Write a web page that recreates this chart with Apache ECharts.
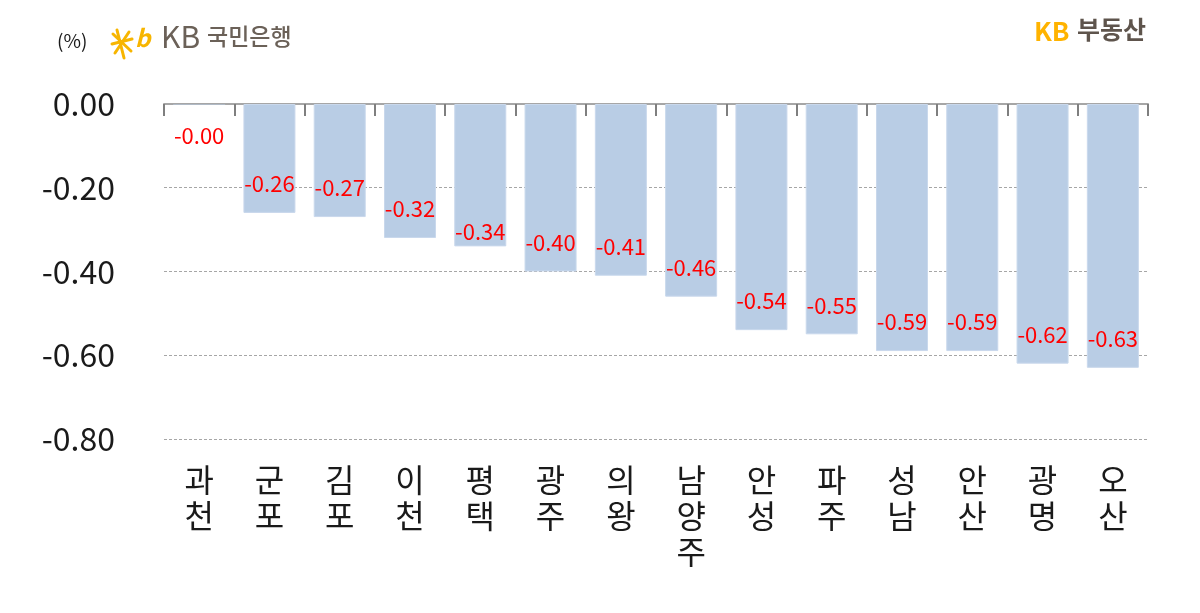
<!DOCTYPE html>
<html>
<head>
<meta charset="utf-8">
<script src="https://cdn.jsdelivr.net/npm/echarts@6/dist/echarts.min.js"></script>
<style>
html,body{margin:0;padding:0;background:#fff;}
#c{width:1200px;height:613px;}
</style>
</head>
<body>
<div id="c"></div>
<script>
const categories = ['과천','군포','김포','이천','평택','광주','의왕','남양주','안성','파주','성남','안산','광명','오산'];
const values = [-0.001,-0.26,-0.27,-0.32,-0.34,-0.40,-0.41,-0.46,-0.54,-0.55,-0.59,-0.59,-0.62,-0.63];
const yTicks = [-0.8,-0.6,-0.4,-0.2,0];

const FONT = '"Noto Sans CJK KR", "Noto Sans", sans-serif';
const chart = echarts.init(document.getElementById('c'));

const barData = values.map((v, i) => {
  if (i === 0) {
    return {value: v, itemStyle: {borderWidth: 0}, label: {position: 'bottom', distance: 20}};
  }
  if (i === 4) {
    return {value: v, label: {distance: 4}};
  }
  return v;
});

chart.setOption({
  animation: false,
  grid: {left: 164, right: 52, top: 104, bottom: 174},
  xAxis: [
    {
      type: 'category', data: categories, position: 'top',
      axisLine: {show: true, lineStyle: {color: '#A6A6A6', width: 2}},
      axisTick: {show: true, inside: true, length: 12, lineStyle: {color: '#7F7F7F', width: 2}},
      axisLabel: {show: false}
    },
    {
      type: 'category', data: categories, position: 'bottom',
      axisLine: {show: false}, axisTick: {show: false},
      axisLabel: {
        show: true, margin: 23, interval: 0,
        fontFamily: FONT, fontSize: 32, lineHeight: 36, color: '#1a1a1a',
        formatter: v => v.split('').join('\n')
      }
    }
  ],
  yAxis: {
    type: 'value', min: -0.8, max: 0, interval: 0.2,
    axisLine: {show: false}, axisTick: {show: false},
    splitLine: {show: true, lineStyle: {color: '#A6A6A6', type: [3, 2], width: 1}},
    axisLabel: {
      margin: 49, fontFamily: FONT, fontSize: 32, color: '#1a1a1a',
      formatter: v => v.toFixed(2)
    }
  },
  series: [{
    type: 'bar', xAxisIndex: 0, data: barData,
    barCategoryGap: '26%',
    itemStyle: {color: '#B9CDE5', borderColor: '#C9D8EC', borderWidth: 1},
    label: {
      show: true, position: 'insideBottom', distance: 18,
      fontFamily: FONT, fontSize: 22, color: '#FF0000',
      formatter: p => (p.value).toFixed(2)
    },
    z: 1
  }],
  graphic: [
    {type: 'text', left: 57, top: 31, style: {text: '(%)', font: '19px ' + FONT, fill: '#1a1a1a'}},
    {type: 'line', shape: {x1: 117, y1: 30, x2: 124, y2: 58}, style: {stroke: '#F7B500', lineWidth: 3, lineCap: 'round'}},
    {type: 'line', shape: {x1: 112, y1: 44, x2: 132, y2: 39}, style: {stroke: '#F7B500', lineWidth: 3, lineCap: 'round'}},
    {type: 'line', shape: {x1: 113, y1: 34, x2: 131, y2: 51}, style: {stroke: '#F7B500', lineWidth: 3, lineCap: 'round'}},
    {type: 'line', shape: {x1: 115, y1: 53, x2: 129, y2: 32}, style: {stroke: '#F7B500', lineWidth: 3, lineCap: 'round'}},
    {type: 'text', left: 135, top: 26, style: {text: 'b', font: 'italic bold 24px ' + FONT, fill: '#F7B500'}},
    {type: 'text', left: 161, top: 22, style: {text: 'KB', font: '30px ' + FONT, fill: '#6B6158'}},
    {type: 'text', left: 207, top: 25, style: {text: '국민은행', font: '500 23px ' + FONT, fill: '#6B6158'}},
    {type: 'text', left: 1034, top: 18, style: {text: 'KB', font: 'bold 26px ' + FONT, fill: '#FFB300'}},
    {type: 'text', left: 1077, top: 17, style: {text: '부동산', font: 'bold 25px ' + FONT, fill: '#5E544C'}}
  ]
});
</script>
</body>
</html>
